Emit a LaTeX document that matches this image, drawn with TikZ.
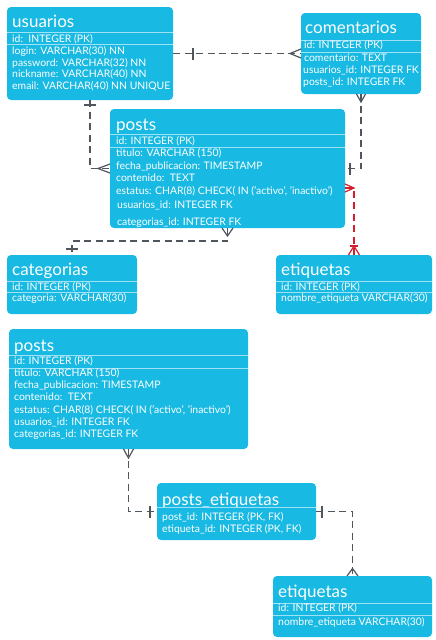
\documentclass[tikz,border=0pt]{standalone}
\usepackage{fontspec}
\setmainfont{Lato}
\usetikzlibrary{calc}
\definecolor{boxc}{RGB}{24,185,226}
\definecolor{sepc}{RGB}{160,226,245}
\definecolor{linec}{RGB}{80,86,94}
\definecolor{redc}{RGB}{210,30,45}
\tikzset{
  tbl/.style={fill=boxc, rounded corners=4pt, anchor=north west, inner sep=0pt, outer sep=0pt},
  ttl/.style={text=white, font=\fontsize{17}{17}\selectfont, anchor=base west, inner sep=0pt},
  fld/.style={text=white, font=\fontsize{10.4}{11}\selectfont, anchor=base west, inner sep=0pt},
  sepl/.style={draw=sepc, line width=0.8pt},
  conn/.style={draw=linec, line width=1.2pt, dash pattern=on 7pt off 4.5pt},
  redconn/.style={draw=redc, line width=1.2pt, dash pattern=on 7pt off 4.5pt},
  ermark/.style={draw=linec, line width=1.2pt},
  redermark/.style={draw=redc, line width=1.2pt},
}
\begin{document}
\begin{tikzpicture}[x=1pt,y=-1pt]
\useasboundingbox (0,0) rectangle (436,640);
\fill[white] (0,0) rectangle (436,640);

% ---------- usuarios ----------
\node[tbl, minimum width=166pt, minimum height=93pt] (usuarios) at (7,7) {};
\node[ttl] (usuariosT) at (12,27.5) {usuarios};
\draw[sepl] (7,32.5) -- (173,32.5);
\draw[sepl] (7,44.5) -- (173,44.5);
\node[fld] (u1) at (12,42) {id:\ \ INTEGER (PK)};
\node[fld] (u2) at (12,54.5) {login: VARCHAR(30) NN};
\node[fld] (u3) at (12,66.2) {password: VARCHAR(32) NN};
\node[fld] (u4) at (12,77.8) {nickname: VARCHAR(40) NN};
\node[fld] (u5) at (12,89.5) {email: VARCHAR(40) NN UNIQUE};

% ---------- comentarios ----------
\node[tbl, minimum width=120pt, minimum height=81pt] (comentarios) at (301,13) {};
\node[ttl] (comT) at (305,33.3) {comentarios};
\draw[sepl] (301,40) -- (421,40);
\draw[sepl] (301,52) -- (421,52);
\node[fld] (c1) at (304,48) {id: INTEGER (PK)};
\node[fld] (c2) at (304,61) {comentario: TEXT};
\node[fld] (c3) at (303,73.3) {usuarios\_id: INTEGER FK};
\node[fld] (c4) at (303,85.7) {posts\_id: INTEGER FK};

% ---------- posts (top) ----------
\node[tbl, minimum width=235pt, minimum height=119pt] (posts) at (110,109) {};
\node[ttl] (postsT) at (116,130.6) {posts};
\draw[sepl] (110,134.5) -- (345,134.5);
\draw[sepl] (110,147) -- (345,147);
\node[fld] (p1) at (116,144) {id: INTEGER (PK)};
\node[fld] (p2) at (116,156.8) {titulo: VARCHAR (150)};
\node[fld] (p3) at (116,169) {fecha\_publicacion: TIMESTAMP};
\node[fld] (p4) at (116,181.5) {contenido:\ \ TEXT};
\node[fld] (p5) at (116,194) {estatus: CHAR(8) CHECK( IN ('activo', 'inactivo')};
\node[fld] (p6) at (117,208.5) {usuarios\_id: INTEGER FK};
\node[fld] (p7) at (117,225) {categorias\_id: INTEGER FK};

% ---------- categorias ----------
\node[tbl, minimum width=130pt, minimum height=59pt] (categorias) at (7,255) {};
\node[ttl] (catT) at (12,275.7) {categorias};
\draw[sepl] (7,281) -- (137,281);
\draw[sepl] (7,292) -- (137,292);
\node[fld] (k1) at (12,290) {id: INTEGER (PK)};
\node[fld] (k2) at (12,301.7) {categoria: VARCHAR(30)};

% ---------- etiquetas (top) ----------
\node[tbl, minimum width=156pt, minimum height=59pt] (etiquetas) at (276,255) {};
\node[ttl] (etT) at (281,275.7) {etiquetas};
\draw[sepl] (276,281) -- (432,281);
\draw[sepl] (276,292) -- (432,292);
\node[fld] (e1) at (281,290) {id: INTEGER (PK)};
\node[fld] (e2) at (281,301.7) {nombre\_etiqueta VARCHAR(30)};

% ---------- posts (bottom) ----------
\node[tbl, minimum width=239pt, minimum height=120pt] (posts2) at (9,329) {};
\node[ttl] (posts2T) at (14,351.5) {posts};
\draw[sepl] (9,355.5) -- (248,355.5);
\draw[sepl] (9,368) -- (248,368);
\node[fld] (q1) at (14,364) {id: INTEGER (PK)};
\node[fld] (q2) at (14,376.5) {titulo: VARCHAR (150)};
\node[fld] (q3) at (14,388.7) {fecha\_publicacion: TIMESTAMP};
\node[fld] (q4) at (14,400.8) {contenido:\ \ TEXT};
\node[fld] (q5) at (14,413) {estatus: CHAR(8) CHECK( IN ('activo', 'inactivo')};
\node[fld] (q6) at (14,425.2) {usuarios\_id: INTEGER FK};
\node[fld] (q7) at (14,437.5) {categorias\_id: INTEGER FK};

% ---------- posts_etiquetas ----------
\node[tbl, minimum width=159pt, minimum height=57pt] (pe) at (157,483) {};
\node[ttl] (peT) at (162,505) {posts\_etiquetas};
\draw[sepl] (157,507) -- (316,507);
\node[fld] (r1) at (162,520) {post\_id: INTEGER (PK, FK)};
\node[fld] (r2) at (162,532.3) {etiqueta\_id: INTEGER (PK, FK)};

% ---------- etiquetas (bottom) ----------
\node[tbl, minimum width=159pt, minimum height=61pt] (etiquetas2) at (273,576) {};
\node[ttl] (et2T) at (278,597.7) {etiquetas};
\draw[sepl] (273,603.3) -- (432,603.3);
\draw[sepl] (273,615.7) -- (432,615.7);
\node[fld] (f1) at (278,611.7) {id: INTEGER (PK)};
\node[fld] (f2) at (278,625) {nombre\_etiqueta VARCHAR(30)};

% ---------- connectors ----------
% usuarios -- comentarios
\draw[conn] (usuarios.east) -- (comentarios.west);
\draw[ermark] (193,47.5) -- (193,59.5);
\draw[ermark] (301,49) -- (290,53.5) -- (301,58);

% usuarios -- posts
\draw[conn] (usuarios.south) |- (posts.west);
\draw[ermark] (84,105) -- (96,105);
\draw[ermark] (110,164) -- (98,168.5) -- (110,173);

% comentarios -- posts
\draw[conn] (comentarios.south) |- (posts.east);
\draw[ermark] (356.5,94) -- (361,102) -- (365.5,94);
\draw[ermark] (350,162.5) -- (350,174.5);

% posts -- etiquetas (red)
\draw[redconn] ($(posts.east)+(0,19.5)$) -| (etiquetas.north);
\draw[redermark] (345,184) -- (354,188) -- (345,192);
\draw[redermark] (348.5,255) -- (354,246) -- (359.5,255);
\draw[redermark] (350,246) -- (358,246);

% posts -- categorias
\draw[conn] (posts.south) -- ++(0,13) -| (categorias.north);
\draw[ermark] (222,228) -- (227.5,236) -- (233,228);
\draw[ermark] (66,249) -- (78,249);

% posts2 -- posts_etiquetas
\draw[conn] (posts2.south) |- (pe.west);
\draw[ermark] (123.5,449) -- (128.5,458) -- (133.5,449);
\draw[ermark] (150,505.5) -- (150,517.5);

% posts_etiquetas -- etiquetas2
\draw[conn] (pe.east) -| (etiquetas2.north);
\draw[ermark] (322,505.5) -- (322,517.5);
\draw[ermark] (347,576) -- (352.5,568.5) -- (358,576);
\end{tikzpicture}
\end{document}
